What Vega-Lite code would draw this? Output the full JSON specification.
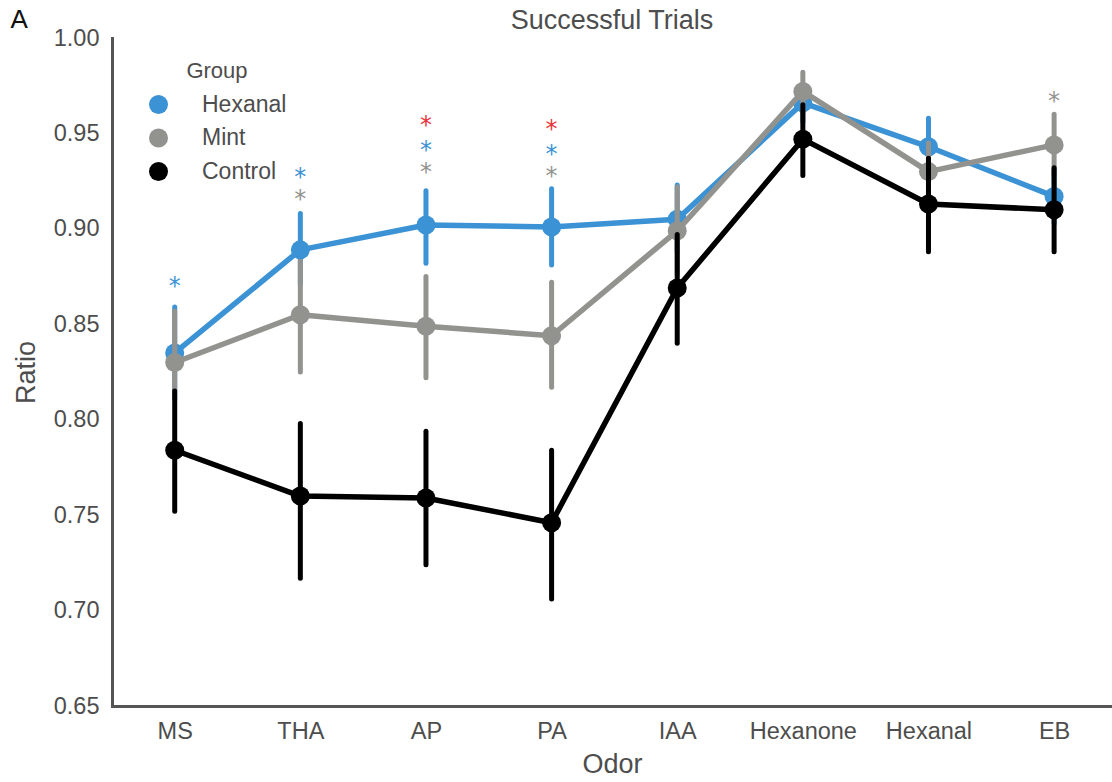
{
  "$schema": "https://vega.github.io/schema/vega-lite/v6.json",
  "width": 1000,
  "height": 668,
  "autosize": "none",
  "padding": {"left": 112, "top": 38, "right": 0, "bottom": 76},
  "background": "white",
  "config": {
    "font": "Liberation Sans",
    "view": {"stroke": null},
    "axis": {"grid": false, "ticks": false, "domainColor": "#555555", "domainWidth": 3, "domainCap": "square", "labelColor": "#4d4d4d", "titleColor": "#4d4d4d", "labelFontSize": 23.5, "titleFontSize": 27, "titleFontWeight": "normal", "labelFont": "Liberation Sans", "titleFont": "Liberation Sans"},
    "legend": {"orient": "none", "legendX": 35, "legendY": 23, "titleFontSize": 22, "labelFontSize": 23, "symbolSize": 361, "symbolType": "circle", "symbolStrokeWidth": 0, "titleAnchor": "middle", "labelOffset": 32, "rowPadding": 9.5, "padding": 0, "titlePadding": 10, "labelColor": "#4d4d4d", "titleColor": "#4d4d4d", "titleFontWeight": "normal"}
  },
  "title": {"text": "Successful Trials", "fontSize": 27, "fontWeight": "normal", "color": "#4d4d4d", "anchor": "middle", "baseline": "alphabetic", "offset": -22, "dy": 28, "font": "Liberation Sans"},
  "datasets": {
    "stats": [
      {"odor": "MS", "group": "Hexanal", "mean": 0.835, "lo": 0.811, "hi": 0.859},
      {"odor": "THA", "group": "Hexanal", "mean": 0.889, "lo": 0.871, "hi": 0.908},
      {"odor": "AP", "group": "Hexanal", "mean": 0.902, "lo": 0.882, "hi": 0.920},
      {"odor": "PA", "group": "Hexanal", "mean": 0.901, "lo": 0.881, "hi": 0.921},
      {"odor": "IAA", "group": "Hexanal", "mean": 0.905, "lo": 0.888, "hi": 0.923},
      {"odor": "Hexanone", "group": "Hexanal", "mean": 0.966, "lo": 0.956, "hi": 0.976},
      {"odor": "Hexanal", "group": "Hexanal", "mean": 0.943, "lo": 0.928, "hi": 0.958},
      {"odor": "EB", "group": "Hexanal", "mean": 0.917, "lo": 0.903, "hi": 0.931},
      {"odor": "MS", "group": "Mint", "mean": 0.830, "lo": 0.816, "hi": 0.857},
      {"odor": "THA", "group": "Mint", "mean": 0.855, "lo": 0.825, "hi": 0.883},
      {"odor": "AP", "group": "Mint", "mean": 0.849, "lo": 0.822, "hi": 0.875},
      {"odor": "PA", "group": "Mint", "mean": 0.844, "lo": 0.817, "hi": 0.872},
      {"odor": "IAA", "group": "Mint", "mean": 0.899, "lo": 0.876, "hi": 0.922},
      {"odor": "Hexanone", "group": "Mint", "mean": 0.972, "lo": 0.961, "hi": 0.982},
      {"odor": "Hexanal", "group": "Mint", "mean": 0.930, "lo": 0.915, "hi": 0.945},
      {"odor": "EB", "group": "Mint", "mean": 0.944, "lo": 0.928, "hi": 0.960},
      {"odor": "MS", "group": "Control", "mean": 0.784, "lo": 0.752, "hi": 0.815},
      {"odor": "THA", "group": "Control", "mean": 0.760, "lo": 0.717, "hi": 0.798},
      {"odor": "AP", "group": "Control", "mean": 0.759, "lo": 0.724, "hi": 0.794},
      {"odor": "PA", "group": "Control", "mean": 0.746, "lo": 0.706, "hi": 0.784},
      {"odor": "IAA", "group": "Control", "mean": 0.869, "lo": 0.840, "hi": 0.897},
      {"odor": "Hexanone", "group": "Control", "mean": 0.947, "lo": 0.928, "hi": 0.965},
      {"odor": "Hexanal", "group": "Control", "mean": 0.913, "lo": 0.888, "hi": 0.937},
      {"odor": "EB", "group": "Control", "mean": 0.910, "lo": 0.888, "hi": 0.932}
    ],
    "stars": [
      {"odor": "MS", "comparison": "Hexanal vs Control", "value": 0.8695},
      {"odor": "THA", "comparison": "Hexanal vs Control", "value": 0.9267},
      {"odor": "THA", "comparison": "Mint vs Control", "value": 0.9151},
      {"odor": "AP", "comparison": "Hexanal vs Mint", "value": 0.9539},
      {"odor": "AP", "comparison": "Hexanal vs Control", "value": 0.9408},
      {"odor": "AP", "comparison": "Mint vs Control", "value": 0.9293},
      {"odor": "PA", "comparison": "Hexanal vs Mint", "value": 0.9518},
      {"odor": "PA", "comparison": "Hexanal vs Control", "value": 0.9387},
      {"odor": "PA", "comparison": "Mint vs Control", "value": 0.9272},
      {"odor": "EB", "comparison": "Mint vs Control", "value": 0.9665}
    ]
  },
  "encoding": {
    "x": {"field": "odor", "type": "nominal", "sort": ["MS", "THA", "AP", "PA", "IAA", "Hexanone", "Hexanal", "EB"],
      "scale": {"type": "point", "padding": 0.48, "align": 0.52},
      "axis": {"labelAngle": 0, "labelPadding": 13, "title": "Odor", "titlePadding": 9}}
  },
  "layer": [
    {
      "data": {"name": "stats"},
      "encoding": {
        "y": {"field": "mean", "type": "quantitative", "scale": {"domain": [0.65, 1.0], "nice": false, "zero": false},
          "axis": {"values": [0.65, 0.7, 0.75, 0.8, 0.85, 0.9, 0.95, 1.0], "format": ".2f", "labelPadding": 13, "title": "Ratio", "titlePadding": 13}},
        "order": {"value": null}
      },
      "layer": [
        {"transform": [{"filter": "datum.group === 'Hexanal'"}], "mark": {"type": "rule", "strokeWidth": 5, "strokeCap": "round"}, "encoding": {"y": {"field": "lo", "type": "quantitative"}, "y2": {"field": "hi"}, "stroke": {"field": "group", "type": "nominal", "scale": {"domain": ["Hexanal", "Mint", "Control"], "range": ["#3b92d4", "#92938f", "#000000"]}, "legend": null}}},
        {"transform": [{"filter": "datum.group === 'Hexanal'"}], "mark": {"type": "line", "strokeWidth": 5.5, "strokeJoin": "round"}, "encoding": {"stroke": {"field": "group", "type": "nominal", "legend": null}}},
        {"transform": [{"filter": "datum.group === 'Hexanal'"}], "mark": {"type": "point", "filled": true, "size": 361, "opacity": 1, "shape": "circle"}, "encoding": {"color": {"field": "group", "type": "nominal", "scale": {"domain": ["Hexanal", "Mint", "Control"], "range": ["#3b92d4", "#92938f", "#000000"]}, "legend": {"title": "Group"}}}},
        {"transform": [{"filter": "datum.group === 'Mint'"}], "mark": {"type": "rule", "strokeWidth": 5, "strokeCap": "round"}, "encoding": {"y": {"field": "lo", "type": "quantitative"}, "y2": {"field": "hi"}, "stroke": {"field": "group", "type": "nominal", "legend": null}}},
        {"transform": [{"filter": "datum.group === 'Mint'"}], "mark": {"type": "line", "strokeWidth": 5.5, "strokeJoin": "round"}, "encoding": {"stroke": {"field": "group", "type": "nominal", "legend": null}}},
        {"transform": [{"filter": "datum.group === 'Mint'"}], "mark": {"type": "point", "filled": true, "size": 361, "opacity": 1, "shape": "circle"}, "encoding": {"color": {"field": "group", "type": "nominal", "legend": {"title": "Group"}}}},
        {"transform": [{"filter": "datum.group === 'Control'"}], "mark": {"type": "rule", "strokeWidth": 5, "strokeCap": "round"}, "encoding": {"y": {"field": "lo", "type": "quantitative"}, "y2": {"field": "hi"}, "stroke": {"field": "group", "type": "nominal", "legend": null}}},
        {"transform": [{"filter": "datum.group === 'Control'"}], "mark": {"type": "line", "strokeWidth": 5.5, "strokeJoin": "round"}, "encoding": {"stroke": {"field": "group", "type": "nominal", "legend": null}}},
        {"transform": [{"filter": "datum.group === 'Control'"}], "mark": {"type": "point", "filled": true, "size": 361, "opacity": 1, "shape": "circle"}, "encoding": {"color": {"field": "group", "type": "nominal", "legend": {"title": "Group"}}}}
      ]
    },
    {
      "data": {"name": "stars"},
      "mark": {"type": "text", "text": "*", "font": "DejaVu Sans", "fontSize": 24, "baseline": "middle", "align": "center"},
      "encoding": {
        "y": {"field": "value", "type": "quantitative", "scale": {"domain": [0.65, 1.0], "nice": false, "zero": false},
          "axis": {"orient": "left", "domain": false, "labels": false, "ticks": false, "grid": false, "title": "A", "titleAngle": 0, "titleX": -102, "titleY": -19, "titleAlign": "left", "titleBaseline": "middle", "titleFontSize": 26, "titleColor": "#111111", "titleFontWeight": "normal"}},
        "color": {"field": "comparison", "type": "nominal", "scale": {"domain": ["Hexanal vs Control", "Mint vs Control", "Hexanal vs Mint"], "range": ["#3b92d4", "#92938f", "#e8333b"]}, "legend": null}
      }
    }
  ],
  "resolve": {"scale": {"color": "independent"}, "axis": {"y": "independent"}}
}
